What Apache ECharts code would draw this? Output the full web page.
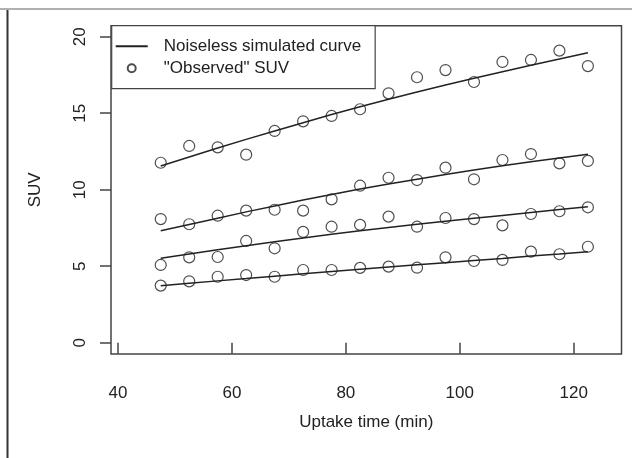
<!DOCTYPE html>
<html>
<head>
<meta charset="utf-8">
<script src="https://cdn.jsdelivr.net/npm/echarts@6/dist/echarts.min.js"></script>
<style>
  html, body { margin: 0; padding: 0; background: #fff; }
  #chart { width: 632px; height: 458px; }
</style>
</head>
<body>
<div id="chart"></div>
<script>
// uptake times (min)
const times = [47.5, 52.5, 57.5, 62.5, 67.5, 72.5, 77.5, 82.5, 87.5, 92.5, 97.5, 102.5, 107.5, 112.5, 117.5, 122.5];

// noiseless curves, top to bottom
const curveA = [11.55, 12.14, 12.72, 13.29, 13.84, 14.38, 14.91, 15.42, 15.91, 16.38, 16.84, 17.28, 17.71, 18.13, 18.54, 18.95];
const curveB = [7.32, 7.73, 8.14, 8.55, 8.94, 9.32, 9.69, 10.04, 10.37, 10.69, 10.99, 11.28, 11.56, 11.82, 12.07, 12.31];
const curveC = [5.52, 5.80, 6.07, 6.33, 6.59, 6.84, 7.08, 7.31, 7.53, 7.74, 7.94, 8.13, 8.32, 8.51, 8.70, 8.89];
const curveD = [3.72, 3.88, 4.04, 4.19, 4.35, 4.50, 4.65, 4.80, 4.95, 5.09, 5.23, 5.37, 5.51, 5.66, 5.80, 5.95];

// "observed" SUV
const obsA = [11.76, 12.86, 12.77, 12.29, 13.84, 14.47, 14.82, 15.26, 16.3, 17.35, 17.82, 17.04, 18.35, 18.48, 19.09, 18.08];
const obsB = [8.08, 7.74, 8.30, 8.63, 8.69, 8.63, 9.37, 10.26, 10.78, 10.63, 11.44, 10.68, 11.94, 12.33, 11.72, 11.88];
const obsC = [5.08, 5.58, 5.60, 6.65, 6.17, 7.24, 7.58, 7.70, 8.24, 7.58, 8.15, 8.08, 7.67, 8.41, 8.59, 8.85];
const obsD = [3.73, 4.01, 4.31, 4.42, 4.31, 4.75, 4.75, 4.89, 4.97, 4.90, 5.58, 5.34, 5.41, 5.95, 5.78, 6.27];

const xTicks = [40, 60, 80, 100, 120];
const yTicks = [0, 5, 10, 15, 20];

const curveName = 'Noiseless simulated curve';
const obsName = '"Observed" SUV';
const ink = '#222';
const font = "'Liberation Sans', Arial, sans-serif";

const pairs = (ys) => times.map((t, i) => [t, ys[i]]);

const lineSeries = [curveA, curveB, curveC, curveD].map(ys => ({
  name: curveName,
  type: 'line',
  data: pairs(ys),
  symbol: 'none',
  lineStyle: { color: ink, width: 1.5 },
  itemStyle: { color: ink },
  z: 2
}));

const obsSeries = [obsA, obsB, obsC, obsD].map(ys => ({
  name: obsName,
  type: 'scatter',
  data: pairs(ys),
  symbol: 'circle',
  symbolSize: 11,
  itemStyle: { color: 'rgba(0,0,0,0)', borderColor: ink, borderWidth: 1.2 },
  z: 3
}));

const chart = echarts.init(document.getElementById('chart'));
chart.setOption({
  animation: false,
  backgroundColor: '#fff',
  textStyle: { fontFamily: font },
  grid: {
    left: 111, right: 10.5, top: 25.7, bottom: 104,
    show: true, borderColor: '#444', borderWidth: 1.5, backgroundColor: 'transparent'
  },
  graphic: [
    { type: 'line', shape: { x1: 0, y1: 9, x2: 632, y2: 9 }, style: { stroke: '#b0b0b0', lineWidth: 2 } },
    { type: 'line', shape: { x1: 7.5, y1: 10, x2: 7.5, y2: 458 }, style: { stroke: '#333', lineWidth: 2 } }
  ],
  legend: {
    left: 111.7, top: 25.7,
    orient: 'vertical',
    padding: [12, 14, 12, 3],
    itemGap: 5,
    itemWidth: 32, itemHeight: 8,
    borderColor: '#444', borderWidth: 1.2,
    backgroundColor: '#fff',
    selectedMode: false,
    textStyle: { fontSize: 17, color: ink, fontFamily: font, lineHeight: 16, padding: [0, 0, 0, 11] },
    data: [
      { name: curveName, itemStyle: { opacity: 0 } },
      { name: obsName }
    ]
  },
  xAxis: {
    type: 'value',
    min: 38.77, max: 128.4,
    name: 'Uptake time (min)',
    nameLocation: 'middle',
    nameGap: 60,
    nameTextStyle: { fontSize: 17, color: ink, fontFamily: font },
    axisLine: { show: false },
    splitLine: { show: false },
    axisTick: { show: true, customValues: xTicks, length: 11, lineStyle: { color: '#444', width: 1.5 } },
    axisLabel: { customValues: xTicks, fontSize: 17, color: ink, margin: 31, fontFamily: font }
  },
  yAxis: {
    type: 'value',
    min: -0.74, max: 20.72,
    name: 'SUV',
    nameLocation: 'middle',
    nameGap: 67,
    nameRotate: 90,
    nameTextStyle: { fontSize: 17, color: ink, fontFamily: font },
    axisLine: { show: false },
    splitLine: { show: false },
    axisTick: { show: true, customValues: yTicks, length: 11, lineStyle: { color: '#444', width: 1.5 } },
    axisLabel: { customValues: yTicks, rotate: 90, fontSize: 17, color: ink, margin: 22, fontFamily: font }
  },
  series: [...lineSeries, ...obsSeries]
});
</script>
</body>
</html>
